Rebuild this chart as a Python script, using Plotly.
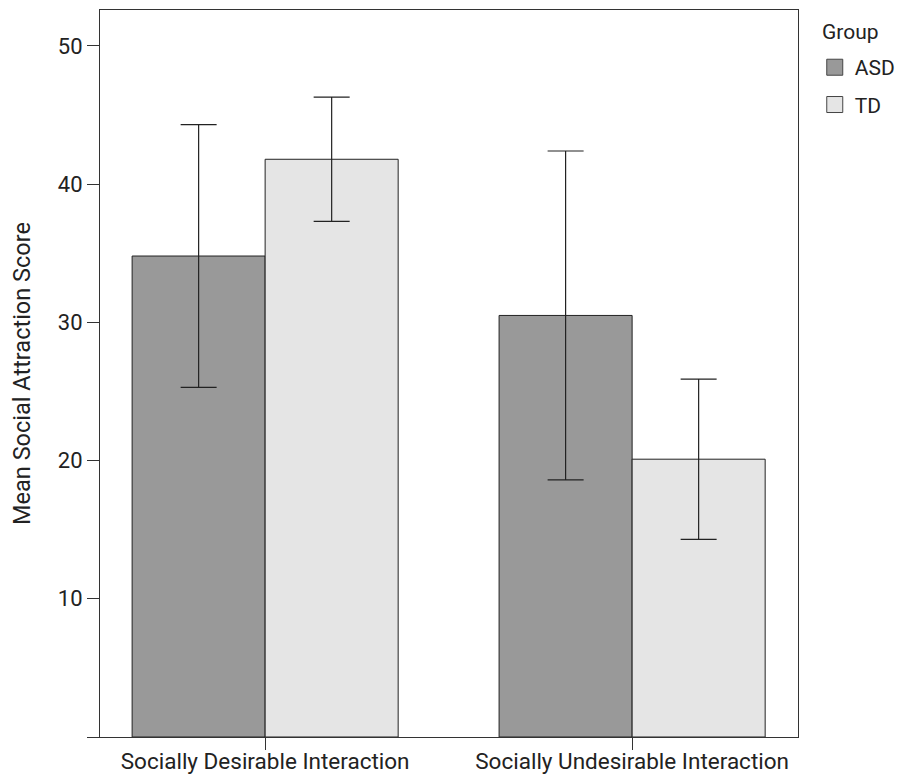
import plotly.graph_objects as go

categories = ["Socially Desirable Interaction", "Socially Undesirable Interaction"]
groups = ["ASD", "TD"]
asd_means = [34.8, 30.5]
asd_err = [9.5, 11.9]
td_means = [41.8, 20.1]
td_err = [4.5, 5.8]
y_ticks = [0, 10, 20, 30, 40, 50]
y_tick_labels = ["", "10", "20", "30", "40", "50"]

colors = {"ASD": "#999999", "TD": "#e5e5e5"}
FONT = "Roboto, Arial, sans-serif"
INK = "#222222"

fig = go.Figure()
for name, means, errs in [("ASD", asd_means, asd_err), ("TD", td_means, td_err)]:
    fig.add_trace(go.Bar(
        x=categories, y=means, name=name, showlegend=False,
        marker=dict(color=colors[name], line=dict(color=INK, width=1)),
        error_y=dict(type="data", array=errs, visible=True, color=INK,
                     thickness=1.2, width=18),
    ))
# legend entries (square swatches)
for name in groups:
    fig.add_trace(go.Scatter(
        x=[None], y=[None], mode="markers", name=name, legendgroup=name,
        marker=dict(symbol="square", size=16, color=colors[name],
                    line=dict(color="#444444", width=1)),
    ))

fig.update_layout(
    width=899, height=772,
    margin=dict(l=92, r=109, t=2, b=43),
    paper_bgcolor="white", plot_bgcolor="white",
    barmode="group", bargap=0.275, bargroupgap=0,
    font=dict(family=FONT, size=21, color=INK),
    legend=dict(x=1.024, y=0.949, xanchor="left", yanchor="top",
                font=dict(size=21), tracegroupgap=7, traceorder="grouped",
                itemsizing="trace"),
    showlegend=True,
    annotations=[dict(text="Group", xref="paper", yref="paper",
                      x=1.031, y=0.97, xanchor="left", yanchor="middle",
                      showarrow=False, font=dict(size=21, family=FONT, color=INK))],
)
fig.update_xaxes(
    type="category", range=[-0.45, 1.452], automargin=False,
    showline=True, linecolor="#333333", linewidth=1.2, mirror=True,
    ticks="outside", ticklen=12, tickcolor="#333333", tickwidth=1,
    showgrid=False, tickfont=dict(size=22.5, family=FONT),
    ticklabelstandoff=-8,
)
fig.update_yaxes(
    range=[0, 52.6], tickvals=y_ticks, ticktext=y_tick_labels, automargin=False,
    showline=True, linecolor="#333333", linewidth=1.2, mirror=True,
    ticks="outside", ticklen=12, tickcolor="#333333", tickwidth=1,
    showgrid=False, zeroline=False,
    tickfont=dict(size=22, family=FONT),
    title=dict(text="Mean Social Attraction Score", font=dict(size=23.5, family=FONT), standoff=34),
)

fig.write_html("out.html")
